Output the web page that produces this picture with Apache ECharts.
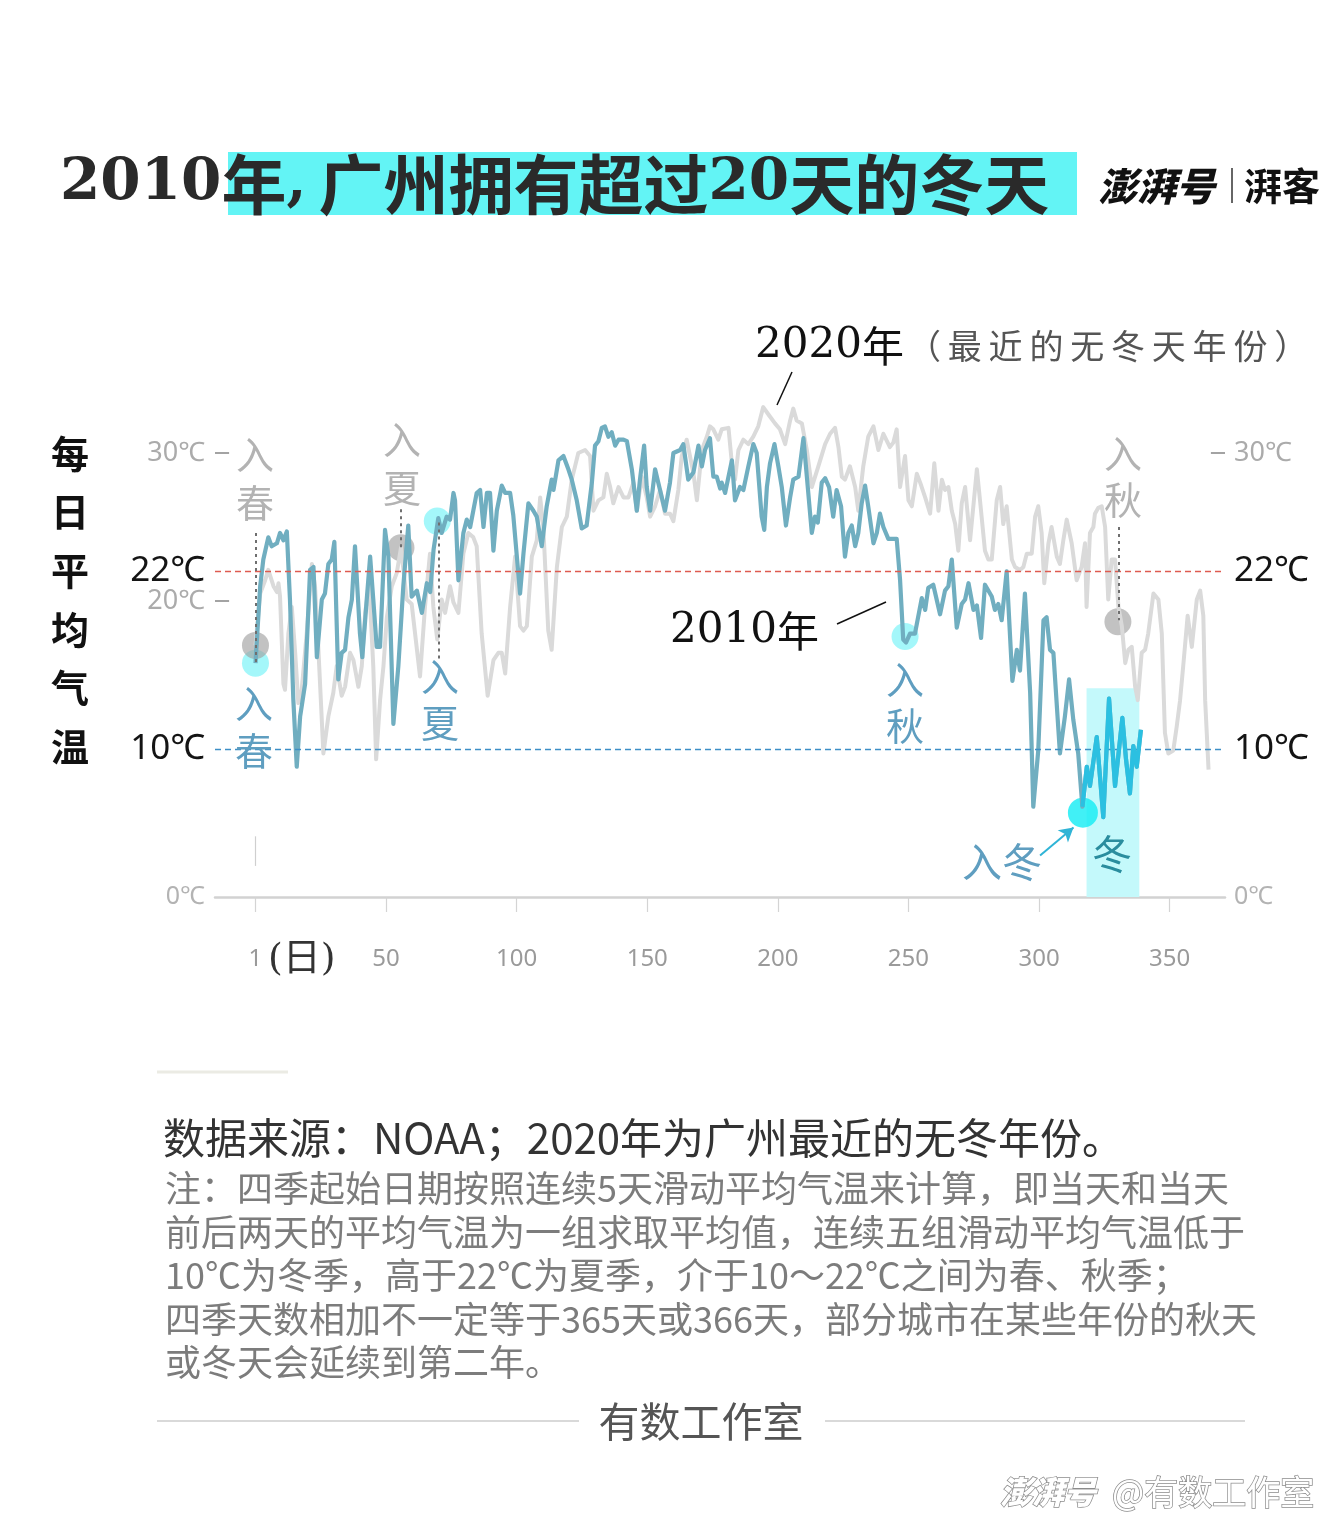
<!DOCTYPE html>
<html><head><meta charset="utf-8">
<script src="https://cdn.jsdelivr.net/npm/echarts@6/dist/echarts.min.js"></script>
<style>html,body{margin:0;padding:0;background:#fff}#c{width:1340px;height:1516px}</style>
</head><body><div id="c"></div>
<script>
// ---- data (day of year, daily mean temperature °C) ----
const days2010 = [0,1.8,3.0,4.9,6.2,8.2,9.4,10.7,12.0,13.2,14.5,15.8,17.1,19.0,20.9,22.2,23.5,25.4,26.6,27.9,29.2,30.2,31.7,33.0,34.3,35.6,36.9,38.1,38.8,40.0,40.9,42.6,43.9,45.1,46.4,47.7,49.6,50.9,52.8,54.7,56.6,58.5,59.8,61.8,63.7,65.6,66.9,68.2,70.0,71.3,73.2,74.5,75.8,76.4,77.7,79.6,80.9,82.2,83.4,84.7,86.0,87.3,88.6,89.8,91.1,92.4,94.3,95.6,97.5,98.7,101.3,102.6,104.5,106.4,107.7,109.6,111.5,113.4,114.1,116.0,117.9,119.8,121.1,123.0,124.9,126.8,128.8,130.0,131.3,132.6,133.8,135.1,136.4,137.7,139.0,140.9,142.2,144.1,146.0,147.2,148.8,149.8,151.1,153.0,154.2,156.8,158.7,160.0,162.6,163.8,165.7,167.7,169.6,170.9,172.1,174.0,175.3,176.6,177.9,178.5,179.8,182.4,183.6,185.5,186.8,188.7,190.6,191.9,193.8,194.8,195.8,197.0,198.7,200.2,201.5,203.1,204.7,205.9,207.9,209.8,211.1,213.0,214.2,215.3,216.8,218.1,219.6,221.2,222.5,224.2,225.7,227.0,228.3,229.6,230.8,232.1,233.4,234.6,236.6,237.9,239.1,240.4,242.3,245.5,246.8,248.0,249.1,250.6,252.5,255.1,256.4,257.6,259.5,262.1,264.0,265.3,266.6,268.5,270.4,271.7,273.0,274.9,276.2,277.8,279.3,281.9,283.1,284.4,285.7,287.6,289.8,291.5,292.7,294.6,296.6,297.8,299.7,301.7,302.9,304.2,305.5,308.0,309.9,311.5,313.1,315.0,316.6,318.3,319.5,322.1,324.6,326.8,329.1,331.9,333.3,334.8,336.1,337.4,339.0];
const temps2010 = [15.8,21.0,22.8,24.3,23.7,23.9,24.6,24.1,24.7,20.1,13.3,8.8,12.2,14.4,22.1,22.3,16.2,20.1,20.5,22.5,22.8,24.0,14.7,16.5,16.7,18.9,20.1,23.7,23.7,17.8,16.2,20.1,23.0,20.1,16.9,16.9,24.8,23.0,11.7,15.6,21.0,25.1,20.3,20.7,19.2,21.2,20.6,23.5,25.6,24.6,25.7,25.5,27.3,26.8,21.4,24.6,25.5,25.0,26.1,27.3,27.5,25.0,27.3,27.3,23.4,26.1,27.8,27.3,27.3,25.8,20.5,23.2,26.6,26.1,25.7,23.7,26.4,28.2,27.5,29.5,29.8,28.9,28.2,26.8,24.9,25.1,28.0,30.5,30.8,31.7,31.8,31.1,31.4,30.5,30.9,30.9,30.8,28.9,26.1,28.2,30.5,27.7,26.1,28.9,28.0,26.1,28.0,30.0,30.2,30.6,28.2,28.7,30.5,29.1,30.2,31.0,28.4,28.4,27.6,28.0,27.3,29.5,26.8,27.7,27.5,29.1,30.6,30.0,25.7,24.8,27.7,29.3,30.6,29.1,27.7,25.1,27.0,28.2,28.4,31.0,28.4,24.6,25.7,25.3,28.0,28.3,27.7,25.7,27.5,26.4,23.0,24.6,25.1,23.7,24.6,26.6,27.8,26.4,23.9,24.6,25.9,25.0,24.2,24.2,21.4,17.4,17.2,17.8,17.8,20.2,19.4,20.9,21.1,19.1,20.7,21.0,22.8,18.2,19.8,20.1,21.2,19.4,19.7,17.5,21.1,20.3,19.4,19.8,18.7,22.0,14.6,16.7,15.3,20.5,13.8,6.1,9.9,18.7,18.9,16.7,16.5,9.7,12.2,14.7,12.0,9.7,6.1,8.8,7.5,10.8,5.4,13.4,7.5,12.1,9.3,7.0,10.2,8.8,11.3];
const days2020 = [0,1.8,3.7,4.9,6.9,8.2,8.8,9.4,10.7,11.3,12.6,13.9,15.2,16.4,17.7,19.6,21.6,22.8,24.1,26.0,27.9,29.8,31.1,33.0,34.3,36.2,37.5,39.4,40.7,42.0,43.5,45.1,46.2,47.7,49.0,50.3,52.2,54.1,55.7,57.9,59.8,63.0,64.9,66.8,68.1,69.6,71.3,72.6,74.5,75.8,77.7,79.6,81.5,83.4,84.7,86.6,88.9,91.1,93.0,94.3,95.6,97.5,99.4,101.3,102.6,103.9,105.8,107.7,109.0,110.2,112.1,113.4,115.4,117.3,119.2,121.1,123.6,126.2,128.1,129.4,131.3,133.2,134.5,135.8,137.0,139.0,140.9,142.8,144.7,146.0,147.9,149.8,151.1,153.0,154.9,156.8,158.7,160.0,161.9,163.2,165.1,167.7,169.0,170.9,172.8,174.0,175.3,177.2,178.5,181.1,182.4,183.6,184.9,186.8,188.7,190.6,192.5,194.4,196.4,198.9,200.8,202.8,204.7,205.9,207.2,209.2,211.1,213.0,215.5,218.1,220.0,221.9,223.2,224.5,225.7,227.6,229.6,230.8,232.7,234.6,236.6,238.5,240.4,242.9,244.2,245.5,246.8,248.7,250.0,251.3,253.2,254.5,256.4,258.3,259.9,261.5,262.8,264.0,265.3,266.6,267.9,269.1,270.4,271.7,273.6,276.2,277.4,279.3,280.6,281.9,283.8,285.1,286.3,287.6,289.6,290.8,292.7,294.0,295.3,297.2,298.5,299.7,301.0,302.0,303.6,304.8,306.8,308.0,309.3,310.6,312.5,314.4,316.3,317.6,318.2,319.5,320.8,321.4,322.7,324.0,325.3,326.5,327.8,329.1,330.4,331.7,333.0,334.2,335.5,336.8,337.8,339.3,340.6,341.8,343.8,345.7,347.0,348.2,349.5,351.4,352.7,354.0,355.2,356.9,358.5,360.4,361.7,362.9,363.6,364.9];
const temps2020 = [17.0,20.5,21.4,22.1,21.0,20.6,21.2,20.3,14.4,14.0,17.8,19.6,16.5,13.1,14.0,17.8,22.5,21.0,16.7,9.7,12.2,13.8,15.6,13.6,14.2,16.5,16.0,14.2,15.6,19.2,21.2,15.6,9.3,13.3,15.6,18.9,21.0,21.9,23.6,20.1,19.8,14.9,19.6,23.2,19.6,17.4,20.1,19.2,21.0,19.9,19.2,23.2,24.6,24.3,23.7,17.8,13.6,16.0,16.5,16.5,15.1,19.6,23.0,18.3,18.0,18.3,23.0,24.1,27.0,25.0,18.0,16.7,22.3,25.0,25.7,28.2,30.0,30.2,29.8,26.1,26.8,27.0,28.6,27.7,26.6,27.7,27.0,27.0,28.0,26.1,28.4,27.0,25.7,26.4,27.5,25.9,25.9,25.4,27.5,29.8,30.9,28.6,26.8,30.2,31.1,31.8,31.6,30.9,31.6,31.7,29.3,28.2,30.2,30.9,30.6,31.1,31.8,33.1,32.6,32.0,31.6,30.6,32.2,33.0,32.2,32.0,30.2,27.7,29.1,30.6,31.3,31.7,30.4,28.4,28.2,29.1,27.7,26.1,29.1,31.1,31.8,30.2,31.3,30.4,30.7,31.6,27.7,29.8,26.8,26.4,28.6,28.0,27.0,25.9,29.3,26.1,28.2,27.5,27.7,26.1,25.2,23.4,26.6,27.7,24.1,28.9,26.8,23.4,22.8,22.8,26.8,27.7,25.2,26.4,22.8,22.3,22.1,22.3,23.2,23.2,25.7,26.4,24.6,21.2,23.9,25.0,23.0,22.5,24.1,25.5,23.9,21.4,22.3,23.9,19.6,24.6,25.0,25.9,26.3,26.4,25.0,20.1,22.8,22.8,19.6,18.3,15.8,16.7,16.9,14.2,13.3,16.5,16.7,17.8,20.5,20.1,17.8,11.1,9.7,9.9,11.5,13.3,15.6,19.0,16.9,20.1,20.7,19.0,13.3,8.6];

const seasonNames = ['入春','入夏','入秋','入冬'];
const season2010Days = [0, 69.6, 248.7, 316.8];
const season2010Temps = [15.8, 25.4, 17.6, 5.7];
const season2020Days = [0, 55.7, 330.2];
const season2020Temps = [17.0, 23.6, 18.6];
const winter2010Range = [318.2, 338.4];   // days counted as winter in 2010
const summerThreshold = 22;
const winterThreshold = 10;
const xTickValues = [0, 50, 100, 150, 200, 250, 300, 350];
const xTickLabels = ['1', '50', '100', '150', '200', '250', '300', '350'];
const yLeftLabelValues = [0, 10, 20, 22, 30];
const yRightLabelValues = [0, 10, 22, 30];
const yLeftDashValues = [20, 30];
const yRightDashValues = [30];

// ---- build ----
const X_MIN = -15.5, X_MAX = 371.2;
const line2010 = days2010.map((d, i) => [d, temps2010[i]]);
const line2020 = days2020.map((d, i) => [d, temps2020[i]]);
const winterStart = season2010Days[3];
const winterLine = line2010.filter(p => p[0] >= winterStart - 0.3);

const SANS = '"Noto Sans", "Noto Sans CJK SC", sans-serif';
const CJK = '"Noto Sans CJK SC", sans-serif';
const SERIF = '"DejaVu Serif", "Noto Sans CJK SC", serif';

const chart = echarts.init(document.getElementById('c'), null, {renderer: 'canvas'});

function yLabelRich() {
  return {
    g: {color: '#ababab', fontSize: 27, fontFamily: SANS},
    s: {color: '#b3b3b3', fontSize: 25, fontFamily: SANS},
    k: {color: '#141414', fontSize: 35, fontFamily: SANS}
  };
}
function yFmt(v) {
  if (v === 22 || v === 10) return '{k|' + v + '℃}';
  if (v === 0) return '{s|0℃}';
  return '{g|' + v + '℃}';
}

const dotted = {color: '#6f6f6f', type: [3, 4], width: 2};
const dashTick = {color: '#999999', type: 'solid', width: 1.8};
const tickLen = 5.4; // in days (≈14px)
const yDashLines = []
  .concat(yLeftDashValues.map(v => [{coord: [X_MIN, v], lineStyle: dashTick}, {coord: [X_MIN + tickLen, v]}]))
  .concat(yRightDashValues.map(v => [{coord: [X_MAX - tickLen, v], lineStyle: dashTick}, {coord: [X_MAX, v]}]));

function vtext(x, top, txt, color, size, lh) {
  return {type: 'text', x: x, y: top, z: 50,
    style: {text: txt, fill: color, fontSize: size, fontFamily: CJK, align: 'center', verticalAlign: 'top', lineHeight: lh}};
}

const option = {
  backgroundColor: '#ffffff',
  animation: false,
  grid: {left: 215, right: 115, top: 379, bottom: 619},
  xAxis: [
    {type: 'value', min: X_MIN, max: X_MAX, position: 'bottom',
      axisLine: {show: true, lineStyle: {color: '#d2d2d2', width: 2.5}},
      axisTick: {show: false}, axisLabel: {show: false}, splitLine: {show: false}},
    {type: 'value', min: X_MIN, max: X_MAX, position: 'bottom', offset: 20,
      axisLine: {show: false},
      axisTick: {show: true, length: 15, customValues: xTickValues, lineStyle: {color: '#d4d4d4', width: 1.2}},
      axisLabel: {show: true, customValues: xTickValues, margin: 30, color: '#9a9a9a', fontSize: 24, fontFamily: SANS,
        formatter: v => xTickLabels[xTickValues.indexOf(v)]},
      splitLine: {show: false}}
  ],
  yAxis: [
    {type: 'value', min: 0, max: 35, position: 'left',
      axisLine: {show: false}, splitLine: {show: false}, axisTick: {show: false},
      axisLabel: {customValues: yLeftLabelValues, margin: 10, formatter: yFmt, rich: yLabelRich()}},
    {type: 'value', min: 0, max: 35, position: 'right',
      axisLine: {show: false}, splitLine: {show: false}, axisTick: {show: false},
      axisLabel: {customValues: yRightLabelValues, margin: 9, formatter: yFmt, rich: yLabelRich()}}
  ],
  series: [
    {type: 'line', name: 'guides', data: [], z: 0, silent: true,
      markArea: {silent: true, itemStyle: {color: '#c4f9fb'},
        data: [[{xAxis: winter2010Range[0], yAxis: 0}, {xAxis: winter2010Range[1], yAxis: 14.1}]]},
      markLine: {silent: true, symbol: 'none', label: {show: false},
        data: [
          {yAxis: summerThreshold, lineStyle: {color: '#de5b50', type: [6, 4], width: 1.3}},
          {yAxis: winterThreshold, lineStyle: {color: '#3d8fc6', type: [6, 4], width: 1.3}},
          [{coord: [0, 24.6], lineStyle: dotted}, {coord: [0, 15.8]}],
          [{coord: [55.7, 26.2], lineStyle: dotted}, {coord: [55.7, 23.6]}],
          [{coord: [70, 25.3], lineStyle: dotted}, {coord: [70, 16.0]}],
          [{coord: [330.5, 25.0], lineStyle: dotted}, {coord: [330.5, 18.7]}],
          [{coord: [0, 4.1], lineStyle: {color: '#cfcfcf', type: 'solid', width: 1.2}}, {coord: [0, 2.1]}]
        ].concat(yDashLines)}},
    {type: 'scatter', name: '2010 季节', data: season2010Days.map((d, i) => [d, season2010Temps[i]]), z: 1,
      symbolSize: (v, p) => p.dataIndex === 3 ? 30 : 27,
      itemStyle: {color: p => p.dataIndex === 3 ? '#12ecf4' : 'rgba(80,240,246,0.65)'}},
    {type: 'scatter', name: '2020 季节', data: season2020Days.map((d, i) => [d, season2020Temps[i]]), z: 2,
      symbolSize: 27, itemStyle: {color: 'rgba(160,160,160,0.8)'}},
    {type: 'line', name: '2020年', data: line2020, z: 3, symbol: 'none',
      lineStyle: {color: '#dadada', width: 4, join: 'round'}},
    {type: 'line', name: '2010年', data: line2010, z: 4, symbol: 'none',
      lineStyle: {color: '#70aec0', width: 4.2, join: 'round'}},
    {type: 'line', name: '2010冬', data: winterLine, z: 5, symbol: 'none',
      lineStyle: {color: '#2bc0e1', width: 4.2, join: 'round'},
      markLine: {silent: true, symbol: ['none', 'arrow'], symbolSize: [12, 14], label: {show: false},
        lineStyle: {color: '#2fb4d6', type: 'solid', width: 2},
        data: [[{coord: [300.4, 2.8]}, {coord: [313.2, 4.7]}]]}}
  ],
  graphic: [
    // title
    {type: 'rect', shape: {x: 228, y: 152, width: 849, height: 63}, style: {fill: '#63f4f5'}, z: 10},
    {type: 'text', x: 60, y: 184, z: 11, style: {
      text: '{d|2010}{c|年}{p|,}{c|广州拥有超过}{d|20}{c|天的冬天}', verticalAlign: 'middle',
      rich: {d: {fontFamily: '"DejaVu Serif", serif', fontWeight: 'bold', fontSize: 58, fill: '#2a2a2a'},
             p: {fontFamily: '"DejaVu Serif", serif', fontWeight: 'bold', fontSize: 58, fill: '#2a2a2a', width: 32},
             c: {fontFamily: CJK, fontWeight: 'bold', fontSize: 65, fill: '#2a2a2a'}}}},
    {type: 'text', x: 1098, y: 186, z: 11, style: {text: '澎湃号', fontFamily: CJK, fontWeight: 900, fontStyle: 'italic', fontSize: 39, fill: '#111', verticalAlign: 'middle'}},
    {type: 'line', shape: {x1: 1232, y1: 168, x2: 1232, y2: 203}, style: {stroke: '#333', lineWidth: 1.5}, z: 11},
    {type: 'text', x: 1244, y: 186, z: 11, style: {text: '湃客', fontFamily: CJK, fontWeight: 'bold', fontSize: 38, fill: '#111', verticalAlign: 'middle'}},
    // y title
    {type: 'text', x: 70, y: 424, z: 11, style: {text: '每\n日\n平\n均\n气\n温', fontFamily: CJK, fontWeight: 'bold', fontSize: 38, lineHeight: 58.6, fill: '#111', align: 'center', verticalAlign: 'top'}},
    // year annotations
    {type: 'text', x: 755, y: 346, z: 11, style: {text: '{d|2020}{c|年}', verticalAlign: 'middle',
      rich: {d: {fontFamily: '"DejaVu Serif", serif', fontSize: 42, fill: '#111'}, c: {fontFamily: CJK, fontSize: 42, fill: '#111'}}}},
    {type: 'text', x: 907, y: 346, z: 11, style: {text: '（\u2009最\u2009近\u2009的\u2009无\u2009冬\u2009天\u2009年\u2009份\u2009）', fontFamily: CJK, fontSize: 34, fill: '#555', verticalAlign: 'middle'}},
    {type: 'line', shape: {x1: 777, y1: 405, x2: 792, y2: 372}, style: {stroke: '#111', lineWidth: 1.5}, z: 11},
    {type: 'text', x: 670, y: 631, z: 11, style: {text: '{d|2010}{c|年}', verticalAlign: 'middle',
      rich: {d: {fontFamily: '"DejaVu Serif", serif', fontSize: 42, fill: '#111'}, c: {fontFamily: CJK, fontSize: 42, fill: '#111'}}}},
    {type: 'line', shape: {x1: 837, y1: 624, x2: 886, y2: 602}, style: {stroke: '#111', lineWidth: 1.5}, z: 11},
    // season labels 2020 (grey)
    vtext(255, 431, '入\n春', '#b3b3b3', 38, 48),
    vtext(402, 416, '入\n夏', '#b3b3b3', 38, 48),
    vtext(1123, 431, '入\n秋', '#b3b3b3', 38, 46),
    // season labels 2010 (blue)
    vtext(254, 680, '入\n春', '#5f9ec0', 38, 47),
    vtext(440, 654, '入\n夏', '#5f9ec0', 38, 46),
    vtext(905, 657, '入\n秋', '#5f9ec0', 38, 46),
    {type: 'text', x: 1002, y: 862, z: 50, style: {text: '入冬', fontFamily: CJK, fontSize: 40, fill: '#5f9ec0', align: 'center', verticalAlign: 'middle'}},
    {type: 'text', x: 1112, y: 854, z: 50, style: {text: '冬', fontFamily: CJK, fontSize: 40, fill: '#2a8d9e', align: 'center', verticalAlign: 'middle'}},
    // x unit
    {type: 'text', x: 268, y: 960, z: 11, style: {text: '(日)', fontFamily: SERIF, fontSize: 38, fill: '#333', verticalAlign: 'middle'}},
    // footer
    {type: 'line', shape: {x1: 157, y1: 1072, x2: 288, y2: 1072}, style: {stroke: '#ebebe4', lineWidth: 3}},
    {type: 'text', x: 163, y: 1138, style: {text: '数据来源：NOAA；2020年为广州最近的无冬年份。', fontFamily: CJK, fontSize: 42, fill: '#333', verticalAlign: 'middle'}},
    {type: 'text', x: 165, y: 1167, style: {
      text: '注：四季起始日期按照连续5天滑动平均气温来计算，即当天和当天\n前后两天的平均气温为一组求取平均值，连续五组滑动平均气温低于\n10℃为冬季，高于22℃为夏季，介于10～22℃之间为春、秋季；\n四季天数相加不一定等于365天或366天，部分城市在某些年份的秋天\n或冬天会延续到第二年。',
      fontFamily: CJK, fontSize: 36, lineHeight: 43.5, fill: '#7c7c7c', verticalAlign: 'top'}},
    {type: 'line', shape: {x1: 157, y1: 1421, x2: 579, y2: 1421}, style: {stroke: '#d9d9d9', lineWidth: 2}},
    {type: 'line', shape: {x1: 825, y1: 1421, x2: 1245, y2: 1421}, style: {stroke: '#d9d9d9', lineWidth: 2}},
    {type: 'text', x: 701, y: 1421, style: {text: '有数工作室', fontFamily: CJK, fontSize: 41, fill: '#555', align: 'center', verticalAlign: 'middle'}},
    {type: 'text', x: 1000, y: 1492, style: {text: '澎湃号', fontFamily: CJK, fontWeight: 900, fontStyle: 'italic', fontSize: 32, fill: '#ffffff', stroke: '#8c8c8c', lineWidth: 1.5, verticalAlign: 'middle'}},
    {type: 'text', x: 1112, y: 1492, style: {text: '@有数工作室', fontFamily: CJK, fontSize: 34, fill: '#ffffff', stroke: '#8c8c8c', lineWidth: 1.5, verticalAlign: 'middle'}}
  ]
};
chart.setOption(option);
</script>
</body></html>
